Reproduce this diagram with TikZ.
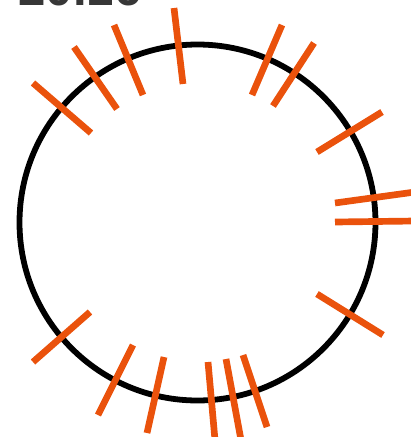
\documentclass[tikz,border=0pt]{standalone}
\usepackage{fontspec}
\setmainfont{Liberation Sans}
\definecolor{hashorange}{RGB}{234,82,12}
\definecolor{labelgray}{RGB}{55,55,55}

\begin{document}
\begin{tikzpicture}[x=0.02cm, y=-0.02cm,
    ring/.style={draw=black, line width=3.3pt},
    hashmark/.style={draw=hashorange, line width=3.8pt}]
  \useasboundingbox (0,0) rectangle (411,437);
  % label, cut at the top edge
  \node[anchor=base west, inner sep=0, text=labelgray,
        font=\bfseries\fontsize{28}{28}\selectfont] (lbl) at (18,5) {20.16};
  % ring
  \draw[ring] (197.5,222.5) circle [radius=178];
  % hash marks across the ring
  \foreach \xa/\ya/\xb/\yb in {33/83/91/133, 74/47/117/109, 114/25/143/95,
      174/8/183/84, 282/25/252/95, 314/43/273/106, 382/112/317/152,
      335/203/415/192, 335/222/415/221, 317/294/383/335,
      90/312/33/362, 133/345/98/415, 164/357/147/433,
      208/362/215/440, 226/359/241/440, 243/355/267/427}
    \draw[hashmark] (\xa,\ya) -- (\xb,\yb);
\end{tikzpicture}
\end{document}
